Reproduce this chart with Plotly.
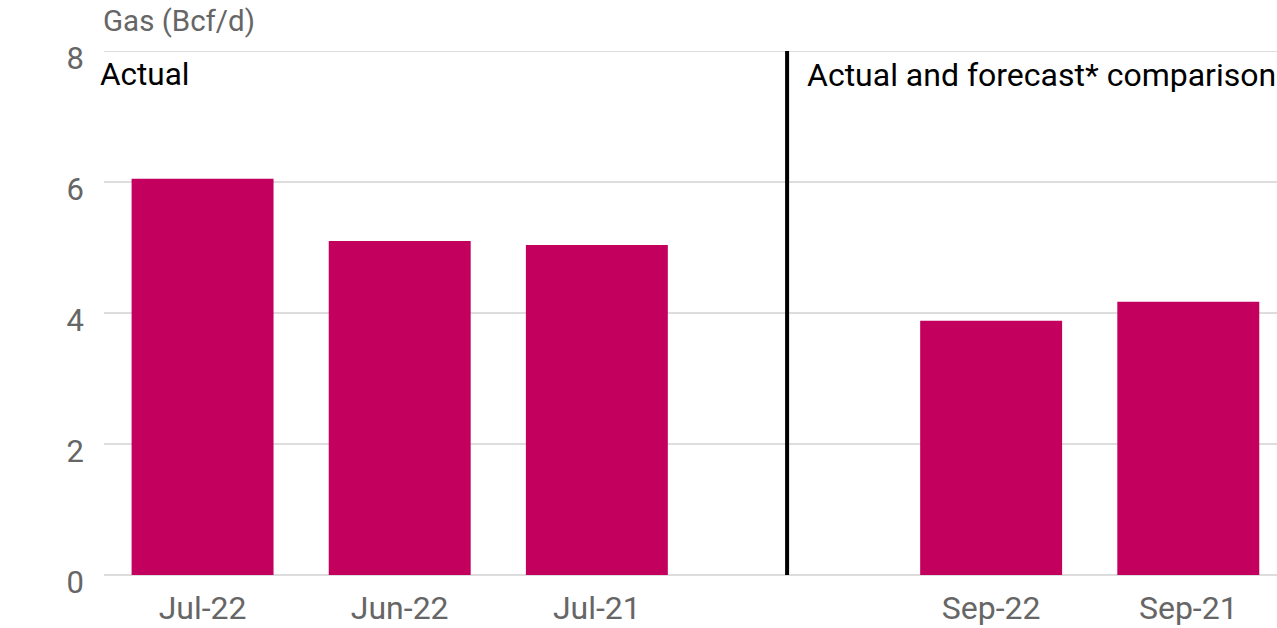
import plotly.graph_objects as go

categories = ["Jul-22", "Jun-22", "Jul-21", "", "Sep-22", "Sep-21"]
values = [6.05, 5.10, 5.04, None, 3.88, 4.17]
y_ticks = [0, 2, 4, 6, 8]
left_label = "Actual"
right_label = "Actual and forecast* comparison"
y_title = "Gas (Bcf/d)"

BAR = "#C4005F"
GREY = "#666666"
GRID = "#dddddd"
FONT = "Roboto"

xs = list(range(len(categories)))
bx = [x for x, v in zip(xs, values) if v is not None]
bv = [v for v in values if v is not None]

fig = go.Figure()
fig.add_trace(go.Bar(x=bx, y=bv, marker=dict(color=BAR, line=dict(width=0)), width=0.72))

# top gridline (plotly drops the gridline sitting on the plot edge)
fig.add_shape(type="line", xref="paper", yref="y", x0=0, x1=1, y0=y_ticks[-1], y1=y_ticks[-1],
              line=dict(color=GRID, width=2), layer="below")
fig.add_shape(type="line", xref="x", yref="y", x0=2.965, x1=2.965, y0=0, y1=y_ticks[-1],
              line=dict(color="black", width=4))

fig.add_annotation(text=left_label, xref="paper", yref="paper", x=0, y=1, xanchor="left",
                   yanchor="top", xshift=-6, yshift=-3, showarrow=False,
                   font=dict(family=FONT, size=31.5, color="black"))
fig.add_annotation(text=right_label, xref="x", yref="paper", x=2.965, y=1, xanchor="left",
                   yanchor="top", xshift=18, yshift=-3, showarrow=False,
                   font=dict(family=FONT, size=32, color="black"))
fig.add_annotation(text=y_title, xref="paper", yref="paper", x=0, y=1, xanchor="left",
                   yanchor="bottom", xshift=-3, yshift=11, showarrow=False,
                   font=dict(family=FONT, size=29.5, color=GREY))

fig.update_layout(
    width=1277, height=628,
    margin=dict(l=104, r=0, t=51, b=53),
    plot_bgcolor="white", paper_bgcolor="white",
    showlegend=False,
    font=dict(family=FONT, color=GREY),
)
fig.update_xaxes(
    tickmode="array", tickvals=xs, ticktext=categories, range=[-0.5, 5.45],
    showgrid=False, showline=False, zeroline=False, ticks="",
    tickfont=dict(family=FONT, size=32, color=GREY), ticklabelstandoff=11,
)
fig.update_yaxes(
    range=[0, 8], tickvals=y_ticks, showgrid=True, gridcolor=GRID, gridwidth=2,
    zeroline=True, zerolinecolor=GRID, zerolinewidth=2, showline=False, ticks="",
    tickfont=dict(family=FONT, size=31, color=GREY), ticklabelstandoff=19,
    ticklabelshift=7,
)

fig.write_html("out.html", config={"displayModeBar": False},
               post_script="document.body.style.margin='0';document.body.style.overflow='hidden';")
